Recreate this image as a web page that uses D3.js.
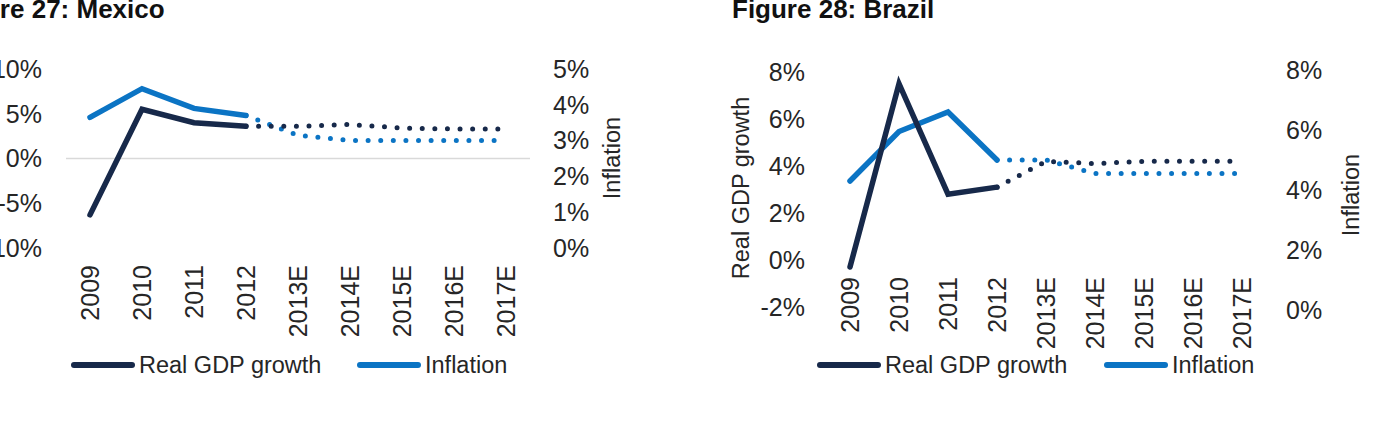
<!DOCTYPE html>
<html><head><meta charset="utf-8">
<script src="https://cdn.jsdelivr.net/npm/d3@7"></script>
<style>
body{margin:0;background:#fff}
svg{display:block}
text{font-family:"Liberation Sans",Arial,Helvetica,sans-serif;fill:#262626}
</style>
</head><body><svg id="c" width="1376" height="432"></svg>
<script>
// ---- data ----
const categories = ["2009","2010","2011","2012","2013E","2014E","2015E","2016E","2017E"];
const mexicoGdp = [-6.3, 5.5, 4.0, 3.6, 3.6, 3.8, 3.4, 3.3, 3.3];
const mexicoInflation = [3.65, 4.45, 3.9, 3.7, 3.15, 3.0, 3.0, 3.0, 3.0];
const brazilGdp = [-0.3, 7.5, 2.8, 3.1, 4.2, 4.1, 4.2, 4.2, 4.2];
const brazilInflation = [4.3, 5.95, 6.6, 5.0, 5.0, 4.55, 4.55, 4.55, 4.55];
const mexicoLeftTicks = [-10, -5, 0, 5, 10];
const mexicoRightTicks = [0, 1, 2, 3, 4, 5];
const brazilLeftTicks = [-2, 0, 2, 4, 6, 8];
const brazilRightTicks = [0, 2, 4, 6, 8];
const seriesNames = ["Real GDP growth", "Inflation"];
const lastActual = "2012";

const NAVY = "#17294a", BLUE = "#0b74c4";
const svg = d3.select("#c");

function panel(cfg) {
  const g = svg.append("g");
  const x = d3.scalePoint().domain(categories).range(cfg.xRange).padding(0.5);
  const yL = d3.scaleLinear().domain(cfg.leftDomain).range(cfg.leftRange);
  const yR = d3.scaleLinear().domain(cfg.rightDomain).range(cfg.rightRange);

  // title
  g.append("text").attr("x", cfg.titleX).attr("y", 18)
    .style("font-weight", "bold").style("font-size", "26px").style("fill", "#111")
    .text(cfg.title);

  // zero gridline
  if (cfg.zeroLine) {
    g.append("line").attr("x1", cfg.xRange[0] + 2).attr("x2", cfg.xRange[1] - 2)
      .attr("y1", yL(0)).attr("y2", yL(0))
      .attr("stroke", "#d9d9d9").attr("stroke-width", 1.5);
  }

  // left axis ticks
  g.selectAll(".tl").data(cfg.leftTicks).enter().append("text")
    .attr("x", cfg.leftTickX).attr("y", d => yL(d)).attr("dy", "0.35em")
    .attr("text-anchor", "end").style("font-size", "25px")
    .text(d => d + "%");
  // right axis ticks
  g.selectAll(".tr").data(cfg.rightTicks).enter().append("text")
    .attr("x", cfg.rightTickX).attr("y", d => yR(d)).attr("dy", "0.35em")
    .attr("text-anchor", "start").style("font-size", "25px")
    .text(d => d + "%");

  // axis titles
  if (cfg.leftTitle) {
    g.append("text").attr("transform", `translate(${cfg.leftTitle[0]},${cfg.leftTitle[1]}) rotate(-90)`)
      .attr("text-anchor", "middle").attr("dy", "0.35em").style("font-size", "23.5px")
      .text(seriesNames[0]);
  }
  g.append("text").attr("transform", `translate(${cfg.rightTitle[0]},${cfg.rightTitle[1]}) rotate(-90)`)
    .attr("text-anchor", "middle").attr("dy", "0.35em").style("font-size", "23.5px")
    .text(seriesNames[1]);

  // x labels
  g.selectAll(".xl").data(categories).enter().append("text")
    .attr("transform", d => `translate(${x(d)},${cfg.xLabelTop}) rotate(-90)`)
    .attr("text-anchor", "end").attr("dy", "0.35em").style("font-size", "25px")
    .text(d => d);

  // lines
  const idx = categories.indexOf(lastActual);
  function draw(values, yScale, color) {
    const pts = categories.map((c, i) => [x(c), yScale(values[i])]);
    const line = d3.line();
    g.append("path").attr("d", line(pts.slice(0, idx + 1)))
      .attr("fill", "none").attr("stroke", color).attr("stroke-width", 5.5)
      .attr("stroke-linejoin", "miter").attr("stroke-linecap", "round");
    g.append("path").attr("d", line(pts.slice(idx)))
      .attr("fill", "none").attr("stroke", color).attr("stroke-width", 5)
      .attr("stroke-linecap", "round").attr("stroke-dasharray", "0 12.6");
  }
  draw(cfg.inflation, yR, BLUE);
  draw(cfg.gdp, yL, NAVY);

  // legend
  const leg = [[cfg.legend[0], NAVY, seriesNames[0]], [cfg.legend[1], BLUE, seriesNames[1]]];
  leg.forEach(([lx, col, name]) => {
    g.append("line").attr("x1", lx).attr("x2", lx + 58).attr("y1", cfg.legendY).attr("y2", cfg.legendY)
      .attr("stroke", col).attr("stroke-width", 6).attr("stroke-linecap", "round");
    g.append("text").attr("x", lx + 65).attr("y", cfg.legendY).attr("dy", "0.35em")
      .style("font-size", "23.5px").text(name);
  });
}

panel({
  title: "Figure 27: Mexico", titleX: -55,
  xRange: [64, 532],
  leftDomain: [-10, 10], leftRange: [248, 69],
  rightDomain: [0, 5], rightRange: [248, 69],
  leftTicks: mexicoLeftTicks, rightTicks: mexicoRightTicks,
  leftTickX: 42, rightTickX: 553,
  zeroLine: true,
  leftTitle: null, rightTitle: [612, 158],
  xLabelTop: 265,
  gdp: mexicoGdp, inflation: mexicoInflation,
  legend: [74, 360], legendY: 365
});

panel({
  title: "Figure 28: Brazil", titleX: 732,
  xRange: [825.5, 1266.5],
  leftDomain: [-2, 8], leftRange: [307, 72],
  rightDomain: [0, 8], rightRange: [310, 70],
  leftTicks: brazilLeftTicks, rightTicks: brazilRightTicks,
  leftTickX: 805, rightTickX: 1286,
  zeroLine: false,
  leftTitle: [741, 188], rightTitle: [1351, 195],
  xLabelTop: 277,
  gdp: brazilGdp, inflation: brazilInflation,
  legend: [820, 1107], legendY: 365
});
</script>
</body></html>
